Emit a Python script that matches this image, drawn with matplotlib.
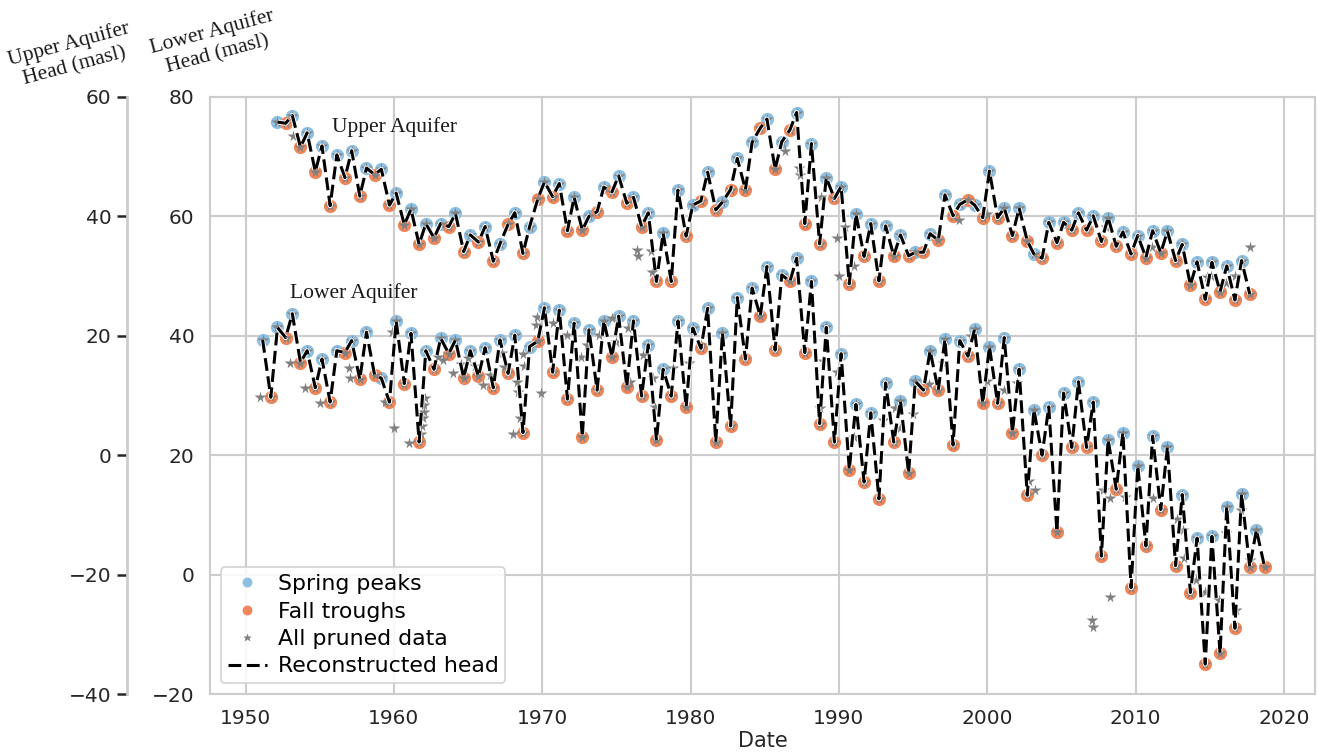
import numpy as np
import matplotlib
matplotlib.use('Agg')
import matplotlib.pyplot as plt
import matplotlib.patheffects as pe

# measurement timing within each year (decimal year offsets)
SPRING = 0.15
FALL = 0.7

BLUE = '#8fbfe0'
ORANGE = '#f0875a'
GRID = '#cccccc'
TEXT = '#262626'

# upper aquifer head (masl), one spring peak and one fall trough per year
upper_years = list(range(1952, 2018))
upper_peaks = [55.8, 56.9, 54.0, 51.8, 50.3, 51.0, 48.1, 47.9, 43.9, 41.2,
               38.8, 38.8, 40.5, 36.9, 38.3, 35.4, 40.6, 38.3, 45.8, 45.5,
               43.2, 40.0, 44.9, 46.8, 43.2, 40.6, 37.2, 44.4, 41.9, 47.4,
               42.4, 49.7, 52.4, 56.3, 52.5, 57.4, 52.2, 46.5, 45.0, 40.4,
               38.8, 38.4, 36.9, 34.0, 37.1, 43.6, 42.0, 41.9, 47.6, 41.4,
               41.4, 33.7, 39.0, 39.0, 40.6, 40.1, 39.8, 37.4, 36.8, 37.6,
               37.5, 35.3, 32.4, 32.3, 31.7, 32.6]
upper_troughs = [55.6, 51.6, 47.5, 41.8, 46.5, 43.4, 47.0, 41.9, 38.6, 35.3,
                 36.4, 38.3, 34.1, 35.7, 32.5, 38.7, 33.8, 42.9, 43.3, 37.6,
                 37.7, 40.8, 44.1, 42.2, 38.3, 29.1, 29.1, 36.7, 42.6, 41.1,
                 44.5, 44.5, 54.8, 47.9, 54.5, 38.8, 35.4, 43.0, 28.7, 33.3,
                 29.2, 33.4, 33.4, 34.0, 36.0, 40.1, 42.8, 39.8, 39.8, 36.8,
                 35.9, 33.0, 35.6, 37.7, 37.7, 35.8, 35.0, 33.7, 33.1, 33.9,
                 32.6, 28.5, 26.1, 27.4, 26.0, 27.0]
# pruned measurements away from the peaks/troughs
upper_other_dates = [1953.2, 1976.4, 1976.45, 1977.3, 1977.4, 1986.4, 1987.3,
                     1987.4, 1988.8, 1989.9, 1990.0, 1990.4, 1991.0, 1998.1,
                     2000.0, 2008.0, 2011.1, 2014.8, 2015.1, 2016.1, 2016.7,
                     2017.75]
upper_other_heads = [53.4, 34.4, 33.4, 34.2, 30.7, 51.0, 48.1,
                     46.9, 43.3, 36.3, 30.0, 38.3, 31.7, 39.4,
                     40.4, 38.2, 34.9, 29.8, 30.0, 28.9, 30.0,
                     34.8]

# lower aquifer head (masl)
lower_years = list(range(1951, 2019))
lower_peaks = [39.3, 41.4, 43.7, 37.5, 36.1, 37.5, 39.2, 40.6, 32.9, 42.5,
               40.4, 37.5, 39.6, 39.3, 37.5, 38.0, 39.3, 40.1, 38.2, 44.7,
               44.3, 42.1, 41.0, 42.5, 43.3, 42.5, 38.5, 34.4, 42.5, 41.3,
               44.6, 40.5, 46.4, 48.0, 51.6, 50.2, 53.0, 49.1, 41.4, 37.0,
               28.5, 27.1, 32.1, 29.1, 32.4, 37.5, 39.4, 39.2, 41.1, 38.2,
               39.7, 34.4, 27.6, 28.1, 30.4, 32.3, 28.9, 22.6, 23.8, 18.2,
               23.2, 21.4, 13.4, 6.1, 6.4, 11.4, 13.5, 7.5]
lower_troughs = [29.7, 39.7, 35.5, 31.3, 28.9, 37.2, 32.7, 33.4, 28.9, 32.0,
                 22.2, 34.4, 37.0, 33.0, 33.2, 31.3, 33.7, 23.8, 39.1, 33.9,
                 29.4, 23.1, 30.9, 36.5, 31.5, 29.9, 22.5, 29.9, 28.1, 37.9,
                 22.2, 24.9, 36.1, 43.3, 37.6, 49.1, 37.2, 25.3, 22.2, 17.6,
                 15.5, 12.7, 22.2, 17.0, 30.9, 30.9, 21.7, 36.6, 28.7, 28.7,
                 23.8, 13.3, 20.0, 7.2, 21.3, 21.3, 3.1, 14.3, -2.2, 4.8,
                 10.9, 1.5, -3.0, -15.0, -13.2, -9.0, 1.3, 1.3]
lower_other_dates = [1951.0, 1953.0, 1954.0, 1955.0, 1957.0, 1957.05, 1959.4,
                     1959.9, 1960.0, 1961.0, 1961.85, 1961.9, 1961.95, 1962.0,
                     1962.05, 1962.1, 1963.0, 1963.3, 1964.0, 1964.5, 1965.0,
                     1965.5, 1966.0, 1966.5, 1967.3, 1967.4, 1968.0, 1968.3,
                     1968.35, 1968.5, 1968.7, 1968.75, 1969.6, 1969.65, 1969.9,
                     1970.7, 1971.7, 1972.6, 1973.0, 1973.8, 1974.7, 1975.0,
                     1975.8, 1975.9, 1976.8, 1977.5, 1977.6, 1978.8, 1979.9,
                     1980.7, 1988.7, 1988.9, 1989.9, 1991.0, 1993.0, 1993.8,
                     1994.1, 1995.0, 1996.1, 1997.0, 1998.9, 2000.0, 2001.1,
                     2002.0, 2002.8, 2003.2, 2007.07, 2007.1, 2007.8, 2008.26,
                     2008.3, 2009.3, 2011.2, 2012.8, 2013.2, 2013.25, 2014.1,
                     2014.7, 2015.6, 2016.1, 2016.8, 2017.1, 2017.7]
lower_other_heads = [29.8, 35.5, 31.2, 28.7, 34.6, 32.9, 28.9,
                     40.7, 24.6, 22.1, 23.5, 24.9, 26.2, 27.3,
                     28.4, 29.5, 36.5, 36.0, 33.8, 35.2, 36.3,
                     35.0, 31.7, 33.5, 37.1, 34.8, 23.6, 32.3,
                     30.6, 26.2, 37.0, 35.0, 41.8, 43.2, 30.4,
                     42.1, 40.1, 36.5, 38.5, 40.1, 42.9, 39.0,
                     41.3, 32.3, 36.8, 32.9, 28.1, 34.6, 35.4,
                     38.5, 27.9, 35.7, 34.0, 23.1, 25.9, 27.9,
                     24.5, 26.9, 31.9, 35.4, 40.0, 32.5, 30.9,
                     32.1, 15.6, 14.2, -7.6, -8.8, 14.1, -3.8,
                     12.9, 13.0, 12.8, 9.3, 7.5, 2.7, -0.9,
                     -2.9, -4.3, 6.9, -6.0, 10.8, 2.4]


def plot_aquifer(ax, years, peaks, troughs, other_dates, other_heads):
    years = np.asarray(years, dtype=float)
    peak_dates = years + SPRING
    trough_dates = years + FALL

    ax.plot(peak_dates, peaks, 'o', color=BLUE, ms=9.5, mec='none',
            label='Spring peaks')
    ax.plot(trough_dates, troughs, 'o', color=ORANGE, ms=9.5, mec='none',
            label='Fall troughs')

    all_dates = np.concatenate([peak_dates, trough_dates, other_dates])
    all_heads = np.concatenate([peaks, troughs, other_heads])
    ax.plot(all_dates, all_heads, '*', color='grey', ms=8.5, mec='none',
            label='All pruned data')

    # reconstructed head zigzags spring -> fall -> spring
    rec_dates = np.column_stack([peak_dates, trough_dates]).ravel()
    rec_heads = np.column_stack([peaks, troughs]).ravel()
    ax.plot(rec_dates, rec_heads, color='black', lw=2.2,
            dashes=(4.2, 1.8), label='Reconstructed head',
            path_effects=[pe.Stroke(linewidth=3.6, foreground='white'),
                          pe.Normal()])


def main():
    fig = plt.figure(figsize=(13.17, 7.53), dpi=100)
    ax = fig.add_axes([210 / 1317, 59 / 753, 1105 / 1317, 597 / 753])
    ax2 = ax.twinx()

    plot_aquifer(ax, lower_years, lower_peaks, lower_troughs,
                 lower_other_dates, lower_other_heads)
    plot_aquifer(ax2, upper_years, upper_peaks, upper_troughs,
                 upper_other_dates, upper_other_heads)

    ax.set_xlim(1947.6, 2022.1)
    ax.set_ylim(-20, 80)
    ax2.set_ylim(-40, 60)
    ax.set_xticks(range(1950, 2021, 10))
    ax.set_yticks(range(-20, 81, 20))
    ax2.set_yticks(range(-40, 61, 20))

    ax.grid(True, color=GRID, lw=1.5)
    ax.set_axisbelow(True)
    ax2.grid(False)
    for sp in ax.spines.values():
        sp.set_color(GRID)
        sp.set_linewidth(1.5)
    ax.tick_params(length=0, pad=11, labelsize=14.5, labelcolor=TEXT)

    # upper aquifer scale sits on an offset spine to the left
    for name in ('top', 'right', 'bottom'):
        ax2.spines[name].set_visible(False)
    ax2.spines['left'].set_visible(True)
    ax2.spines['left'].set_position(('outward', 60))
    ax2.spines['left'].set_color(GRID)
    ax2.spines['left'].set_linewidth(2)
    ax2.yaxis.tick_left()
    ax2.tick_params(axis='y', length=7, width=1.8, color=TEXT, pad=4,
                    labelsize=14.5, labelcolor=TEXT)

    ax.set_xlabel('Date', fontsize=15, color=TEXT, labelpad=2)

    serif = dict(family='Liberation Serif', fontsize=15.5, color='#1a1a1a')
    ax2.text(1955.85, 54.2, 'Upper Aquifer', va='baseline', **serif)
    ax.text(1952.97, 46.3, 'Lower Aquifer', va='baseline', **serif)
    fig.text(72 / 1317, 1 - 55 / 753, 'Upper Aquifer\nHead (masl)',
             rotation=15, ha='center', va='center', multialignment='center',
             **serif)
    fig.text(215 / 1317, 1 - 43 / 753, 'Lower Aquifer\nHead (masl)',
             rotation=15, ha='center', va='center', multialignment='center',
             **serif)

    handles, labels = ax.get_legend_handles_labels()
    leg = ax2.legend(handles, labels, loc='lower left', fontsize=15.8,
                     labelspacing=0.34, handlelength=1.8, handletextpad=0.5,
                     borderpad=0.3, markerscale=0.75, framealpha=0.85,
                     edgecolor=GRID)
    leg.get_frame().set_linewidth(1.2)
    for txt in leg.get_texts():
        txt.set_color('black')

    fig.savefig('out.png', dpi=100)


if __name__ == '__main__':
    main()
